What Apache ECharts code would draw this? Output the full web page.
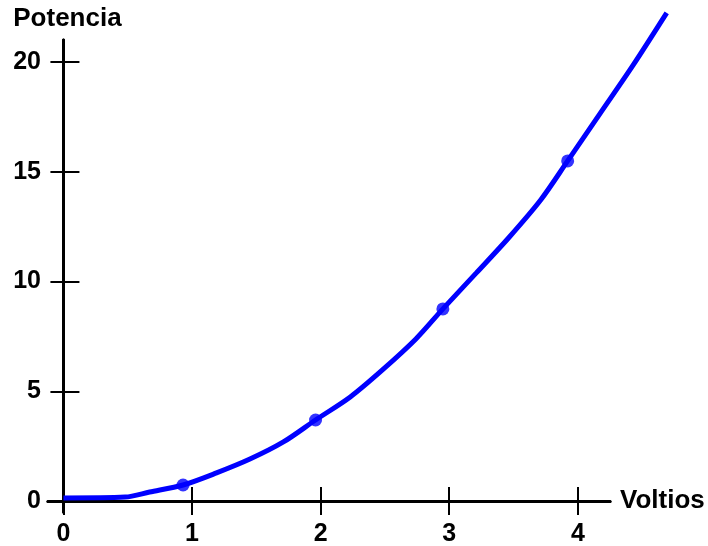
<!DOCTYPE html>
<html>
<head>
<meta charset="utf-8">
<script src="https://cdn.jsdelivr.net/npm/echarts@6/dist/echarts.min.js"></script>
<style>
html,body{margin:0;padding:0;background:#fff;}
#chart{width:708px;height:546px;}
</style>
</head>
<body>
<div id="chart"></div>
<script>
// Curve (Voltios, Potencia)
const curveX = [0, 0.48, 0.67, 0.93, 1.19, 1.45, 1.71, 1.96, 2.23, 2.48, 2.74, 2.95, 3.21, 3.46, 3.71, 3.92, 4.17, 4.43, 4.69];
const curveY = [0.14, 0.18, 0.41, 0.73, 1.28, 1.91, 2.69, 3.69, 4.74, 5.97, 7.38, 8.75, 10.39, 11.98, 13.71, 15.49, 17.63, 19.86, 22.23];
// Marked points
const dotX = [0.93, 1.96, 2.95, 3.92];
const dotY = [0.73, 3.69, 8.75, 15.49];
// Tick labels
const xTicks = [0, 1, 2, 3, 4];
const yTicks = [0, 5, 10, 15, 20];
const xName = 'Voltios';
const yName = 'Potencia';

const curveData = curveX.map((x, i) => [x, curveY[i]]);
const dotData = dotX.map((x, i) => [x, dotY[i]]);

const font = { fontFamily: '"Liberation Sans", Arial, sans-serif', fontWeight: 'bold', color: '#000' };
const lineStyle = { color: '#000', width: 3 };
const tickStyle = { color: '#000', width: 2 };

const chart = echarts.init(document.getElementById('chart'), null, { renderer: 'canvas' });
chart.setOption({
  animation: false,
  backgroundColor: '#fff',
  grid: [
    { left: 48, right: 98, top: 40, bottom: 34, containLabel: false, outerBoundsMode: 'none' },
    { left: 48, right: 40, top: 7, bottom: 34, containLabel: false, outerBoundsMode: 'none' }
  ],
  xAxis: [
    {
      gridIndex: 0, type: 'value', min: -0.12, max: 4.25, position: 'bottom',
      name: xName, nameLocation: 'end', nameGap: 10,
      nameTextStyle: Object.assign({ fontSize: 26, verticalAlign: 'middle' }, font),
      axisLine: { show: true, onZero: true, lineStyle: lineStyle },
      axisTick: { show: true, inside: false, length: 14, customValues: xTicks, lineStyle: tickStyle },
      axisLabel: Object.assign({ show: true, customValues: xTicks, fontSize: 25, margin: 10 }, font),
      splitLine: { show: false }
    },
    {
      gridIndex: 0, type: 'value', min: -0.12, max: 4.25, position: 'bottom',
      axisLine: { show: true, onZero: true, lineStyle: lineStyle },
      axisTick: { show: true, inside: true, length: 14, customValues: xTicks, lineStyle: tickStyle },
      axisLabel: { show: false },
      splitLine: { show: false }
    },
    {
      gridIndex: 1, type: 'value', min: -0.12, max: 4.7, show: false
    }
  ],
  yAxis: [
    {
      gridIndex: 0, type: 'value', min: -0.5, max: 21.0, position: 'left',
      name: yName, nameLocation: 'end', nameGap: 8,
      nameTextStyle: Object.assign({ fontSize: 26, align: 'center', padding: [0, 0, 0, 8] }, font),
      axisLine: { show: true, onZero: true, lineStyle: lineStyle },
      axisTick: { show: true, inside: false, length: 13, customValues: yTicks, lineStyle: tickStyle },
      axisLabel: Object.assign({ show: true, customValues: yTicks, fontSize: 25, margin: 7 }, font),
      splitLine: { show: false }
    },
    {
      gridIndex: 0, type: 'value', min: -0.5, max: 21.0, position: 'left',
      axisLine: { show: true, onZero: true, lineStyle: lineStyle },
      axisTick: { show: true, inside: true, length: 16, customValues: yTicks, lineStyle: tickStyle },
      axisLabel: { show: false },
      splitLine: { show: false }
    },
    {
      gridIndex: 1, type: 'value', min: -0.5, max: 22.5, show: false
    }
  ],
  series: [
    {
      type: 'line', xAxisIndex: 2, yAxisIndex: 2,
      data: curveData, smooth: 0.3,
      symbol: 'none',
      lineStyle: { color: '#0000ff', width: 5 }
    },
    {
      type: 'scatter', xAxisIndex: 2, yAxisIndex: 2,
      data: dotData, symbol: 'circle', symbolSize: 13,
      itemStyle: { color: '#0000ff' }
    }
  ]
});
</script>
</body>
</html>
